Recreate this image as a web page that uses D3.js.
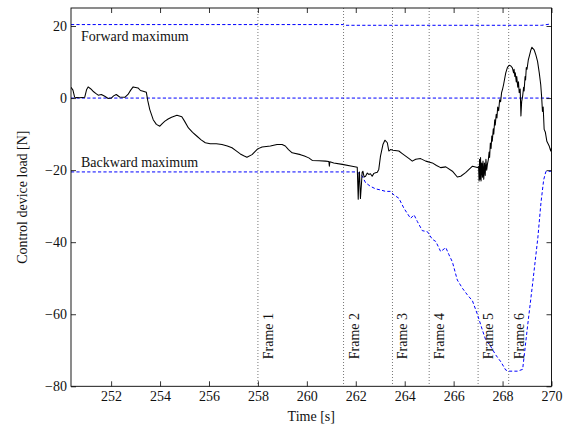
<!DOCTYPE html>
<html>
<head>
<meta charset="utf-8">
<script src="https://cdn.jsdelivr.net/npm/d3@7"></script>
<style>
  html, body { margin: 0; padding: 0; background: #fff; }
  svg { display: block; }
  text { font-family: "Liberation Serif", "DejaVu Serif", serif; fill: #111; }
</style>
</head>
<body>
<svg id="chart" width="565" height="428"></svg>
<script>
// Measured control device load [time s, load N]
const controlLoad = [
  [250.36, 3.0], [250.44, 2.2], [250.51, 0.2], [250.7, 0.1], [250.92, 0.2], [251.0, 2.4], [251.06, 3.1],
  [251.16, 2.6], [251.26, 1.9], [251.37, 1.3], [251.47, 0.8], [251.6, 1.0], [251.74, 0.5],
  [251.88, -0.1], [252.01, 0.0], [252.1, 0.6], [252.21, 1.0], [252.35, 0.3], [252.56, 0.2],
  [252.69, 1.0], [252.8, 2.2], [252.9, 3.1], [253.1, 2.8], [253.2, 2.1], [253.31, 1.9], [253.44, 1.6],
  [253.5, -0.8], [253.58, -3.2], [253.72, -6.0], [253.85, -7.3], [253.99, -7.8], [254.1, -7.0],
  [254.2, -6.4], [254.33, -5.8], [254.47, -5.3], [254.69, -4.8], [254.89, -5.2], [255.0, -6.4],
  [255.16, -8.3], [255.33, -9.5], [255.51, -10.6], [255.68, -11.6], [255.85, -12.4], [256.05, -12.7],
  [256.3, -12.7], [256.53, -12.9], [256.75, -13.3], [256.94, -13.8], [257.1, -14.6], [257.28, -15.5],
  [257.42, -16.0], [257.55, -16.4], [257.76, -15.7], [257.9, -14.7], [257.99, -14.1], [258.17, -13.6],
  [258.51, -13.3], [258.78, -12.9], [258.99, -12.9], [259.12, -13.3], [259.25, -14.3], [259.4, -15.2],
  [259.74, -15.7], [259.9, -16.1], [260.08, -16.6], [260.22, -17.3], [260.5, -17.4], [260.76, -17.5],
  [260.9, -17.6], [260.92, -18.9], [260.94, -17.7], [261.1, -18.0], [261.45, -18.4], [261.85, -18.9],
  [262.06, -19.2], [262.1, -28.1], [262.13, -21.0], [262.15, -20.5], [262.19, -27.9], [262.23, -24.0],
  [262.26, -20.6], [262.29, -20.3], [262.34, -21.9], [262.4, -21.7], [262.47, -20.8], [262.53, -21.2],
  [262.6, -21.0], [262.67, -21.7], [262.74, -20.9], [262.81, -20.7], [262.88, -20.6], [262.94, -19.8],
  [263.01, -16.1], [263.11, -12.9], [263.19, -11.7], [263.29, -12.4], [263.35, -14.7], [263.42, -14.3],
  [263.52, -14.5], [263.76, -14.7], [263.9, -15.4], [264.04, -16.1], [264.18, -16.8], [264.31, -17.5],
  [264.45, -17.0], [264.65, -16.8], [264.86, -17.5], [265.13, -18.0], [265.3, -18.7], [265.47, -19.3],
  [265.68, -19.1], [265.95, -20.3], [266.15, -21.9], [266.29, -21.7], [266.49, -20.7], [266.77, -18.9],
  [266.97, -19.3], [267.02, -19.0], [267.04, -23.0], [267.06, -17.0], [267.08, -22.5], [267.10, -16.5],
  [267.12, -23.0], [267.15, -18.0], [267.18, -22.0], [267.2, -17.5], [267.23, -22.5], [267.26, -18.0],
  [267.29, -21.5], [267.32, -17.0], [267.35, -20.0], [267.38, -18.4], [267.42, -17.0], [267.45, -15.0],
  [267.47, -16.5], [267.5, -12.5], [267.53, -14.0], [267.56, -10.5], [267.58, -12.0], [267.62, -8.5],
  [267.64, -10.0], [267.68, -6.0], [267.7, -7.5], [267.74, -4.5], [267.77, -5.5], [267.8, -2.5],
  [267.84, -3.5], [267.88, -0.5], [267.92, -1.0], [267.96, 1.5], [268.0, 2.5], [268.04, 3.7],
  [268.13, 7.0], [268.2, 8.5], [268.27, 9.1], [268.34, 8.9], [268.4, 8.4], [268.45, 7.0], [268.47, 8.0],
  [268.5, 6.0], [268.52, 7.0], [268.56, 4.5], [268.58, 6.0], [268.62, 3.0], [268.65, 4.5], [268.68, 1.5],
  [268.72, 2.5], [268.75, -5.0], [268.78, -1.0], [268.82, 0.5], [268.86, 3.0], [268.88, 2.0],
  [268.92, 6.0], [268.94, 5.0], [268.97, 8.5], [269.0, 8.0], [269.05, 10.5], [269.09, 11.6],
  [269.15, 13.2], [269.2, 14.1], [269.29, 13.4], [269.36, 12.0], [269.43, 10.2], [269.5, 7.0],
  [269.56, 3.7], [269.6, 0.0], [269.63, -3.7], [269.66, -2.5], [269.7, -8.7], [269.75, -9.5],
  [269.81, -12.0], [269.91, -13.4], [269.97, -14.7], [270.0, -13.8]
];

// Forward load limit [time s, load N]
const forwardMax = [
  [250.36, 20.4], [261.5, 20.4], [261.52, 20.2], [269.6, 20.2], [270.0, 20.6]
];

// Backward load limit [time s, load N]
const backwardMax = [
  [250.36, -20.5], [262.06, -20.5], [262.26, -21.6], [262.4, -23.5], [262.6, -24.5], [262.81, -25.2],
  [263.01, -25.5], [263.22, -25.9], [263.42, -25.9], [263.56, -26.9], [263.76, -27.8], [263.97, -30.6],
  [264.24, -33.4], [264.38, -32.4], [264.52, -34.3], [264.72, -36.8], [264.93, -37.1], [265.13, -39.2],
  [265.27, -39.8], [265.47, -42.6], [265.68, -41.5], [265.81, -43.5], [265.95, -45.5], [266.15, -50.5],
  [266.36, -52.8], [266.56, -54.6], [266.77, -56.3], [266.97, -60.0], [267.18, -64.5], [267.31, -67.1],
  [267.52, -69.0], [267.72, -71.3], [267.93, -73.2], [268.13, -75.5], [268.27, -75.8], [268.61, -75.8],
  [268.82, -75.3], [268.88, -71.8], [269.02, -63.4], [269.23, -51.4], [269.44, -38.9], [269.57, -29.0],
  [269.68, -22.7], [269.77, -20.4], [270.0, -20.3]
];

// Zero reference
const zeroLine = [[250.36, 0], [270.0, 0]];

// Video frame markers
const frameTimes = [258.0, 261.5, 263.5, 265.0, 267.0, 268.25];
const frameLabels = ["Frame 1", "Frame 2", "Frame 3", "Frame 4", "Frame 5", "Frame 6"];

const xTicks = [252, 254, 256, 258, 260, 262, 264, 266, 268, 270];
const yTicks = [-80, -60, -40, -20, 0, 20];

const xDomain = [250.36, 270];
const yDomain = [-80, 25];

const svg = d3.select("#chart");
const plot = { left: 71, right: 551.5, top: 8, bottom: 386.3 };

const x = d3.scaleLinear().domain(xDomain).range([plot.left, plot.right]);
const y = d3.scaleLinear().domain(yDomain).range([plot.bottom, plot.top]);

const line = d3.line().x(d => x(d[0])).y(d => y(d[1]));

svg.append("defs").append("clipPath").attr("id", "plot-clip")
  .append("rect")
  .attr("x", plot.left).attr("y", plot.top)
  .attr("width", plot.right - plot.left).attr("height", plot.bottom - plot.top);

const g = svg.append("g").attr("clip-path", "url(#plot-clip)");

// Frame markers
g.selectAll("line.frame").data(frameTimes).join("line")
  .attr("class", "frame")
  .attr("x1", d => x(d)).attr("x2", d => x(d))
  .attr("y1", plot.top).attr("y2", plot.bottom)
  .attr("stroke", "#555").attr("stroke-width", 0.9)
  .attr("stroke-dasharray", "0.9,2.1");

// Limit lines
const dash = "3.2,2.2";
[forwardMax, zeroLine, backwardMax].forEach(series => {
  g.append("path").datum(series)
    .attr("d", line)
    .attr("fill", "none")
    .attr("stroke", "#0000ff")
    .attr("stroke-width", 1)
    .attr("stroke-dasharray", dash);
});

// Measured load
g.append("path").datum(controlLoad)
  .attr("d", line)
  .attr("fill", "none")
  .attr("stroke", "#000")
  .attr("stroke-width", 1.05)
  .attr("stroke-linejoin", "round");

// Frame labels
svg.selectAll("text.frame-label").data(frameTimes).join("text")
  .attr("class", "frame-label")
  .attr("transform", d => `translate(${x(d) + 15},${y(-72.5)}) rotate(-90)`)
  .attr("font-size", 14)
  .attr("text-anchor", "start")
  .text((d, i) => frameLabels[i]);

// Limit annotations
svg.append("text").attr("x", 81).attr("y", 40.5).attr("font-size", 14).text("Forward maximum");
svg.append("text").attr("x", 81).attr("y", 166.5).attr("font-size", 14).text("Backward maximum");

// Axes frame
svg.append("rect")
  .attr("x", plot.left).attr("y", plot.top)
  .attr("width", plot.right - plot.left).attr("height", plot.bottom - plot.top)
  .attr("fill", "none").attr("stroke", "#000").attr("stroke-width", 0.9);

const tickLen = 5;
const fmt = d3.format("d");

const bottomAxis = d3.axisBottom(x).tickValues(xTicks).tickFormat(fmt)
  .tickSizeInner(-tickLen).tickSizeOuter(0).tickPadding(5);
const topAxis = d3.axisTop(x).tickValues(xTicks).tickFormat("")
  .tickSizeInner(-tickLen).tickSizeOuter(0);
const leftAxis = d3.axisLeft(y).tickValues(yTicks).tickFormat(fmt)
  .tickSizeInner(-tickLen).tickSizeOuter(0).tickPadding(4);
const rightAxis = d3.axisRight(y).tickValues(yTicks).tickFormat("")
  .tickSizeInner(-tickLen).tickSizeOuter(0);

function styleAxis(sel) {
  sel.select(".domain").remove();
  sel.selectAll(".tick line").attr("stroke", "#000").attr("stroke-width", 0.8);
  sel.selectAll(".tick text")
    .attr("font-family", "'Liberation Serif', 'DejaVu Serif', serif")
    .attr("font-size", 14).attr("fill", "#111");
}

svg.append("g").attr("transform", `translate(0,${plot.bottom})`).call(bottomAxis).call(styleAxis);
svg.append("g").attr("transform", `translate(0,${plot.top})`).call(topAxis).call(styleAxis);
svg.append("g").attr("transform", `translate(${plot.left},0)`).call(leftAxis).call(styleAxis);
svg.append("g").attr("transform", `translate(${plot.right},0)`).call(rightAxis).call(styleAxis);

// Axis titles
svg.append("text")
  .attr("x", (plot.left + plot.right) / 2).attr("y", 421)
  .attr("text-anchor", "middle").attr("font-size", 14)
  .text("Time [s]");

svg.append("text")
  .attr("transform", `translate(27,${(plot.top + plot.bottom) / 2}) rotate(-90)`)
  .attr("text-anchor", "middle").attr("font-size", 14)
  .text("Control device load [N]");
</script>
</body>
</html>
